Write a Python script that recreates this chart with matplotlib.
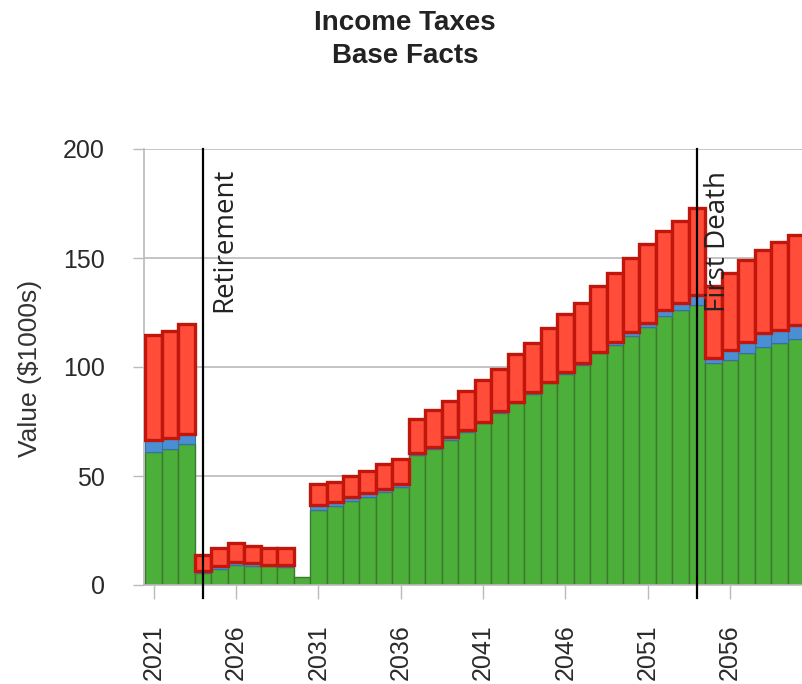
import numpy as np
import matplotlib.pyplot as plt

years = list(range(2021, 2061))

# segment heights ($1000s), bottom to top
green = [61.0, 62.4, 64.7, 5.5, 7.3, 9.2, 8.8, 8.6, 8.4, 3.8,
         34.4, 36.2, 38.7, 40.5, 42.8, 45.1, 59.6, 62.4, 66.5, 70.3,
         74.2, 78.7, 83.3, 87.5, 92.5, 96.6, 100.9, 106.3, 110.1, 114.4,
         118.5, 123.5, 126.2, 128.4, 101.7, 103.2, 106.3, 109.3, 111.1, 112.7]
blue = [5.5, 4.9, 4.6, 1.0, 1.4, 1.5, 1.1, 0.8, 0.8, 0.0,
        2.1, 1.7, 1.8, 1.9, 1.1, 1.2, 1.1, 1.0, 1.5, 0.8,
        0.8, 1.1, 0.8, 0.9, 0.8, 1.2, 0.8, 0.7, 1.5, 1.8,
        1.8, 2.5, 3.0, 4.6, 2.3, 4.6, 5.3, 6.2, 5.9, 6.6]
red = [48.2, 49.4, 50.4, 7.3, 8.1, 8.4, 8.1, 7.4, 7.6, 0.0,
       9.8, 9.5, 9.6, 10.0, 11.6, 11.4, 15.3, 16.9, 16.5, 17.9,
       19.0, 19.4, 21.9, 22.8, 24.7, 26.5, 27.8, 30.2, 31.7, 33.7,
       36.1, 36.5, 37.8, 39.8, 33.0, 35.5, 37.5, 38.2, 40.5, 41.3]

events = [(2024, "Retirement"), (2054, "First Death")]
xtick_years = list(range(2021, 2061, 5))
yticks = [0, 50, 100, 150, 200]

plt.rcParams['font.family'] = ['Liberation Sans', 'DejaVu Sans']

fig = plt.figure(figsize=(8.02, 6.84), dpi=100)
ax = fig.add_axes([144 / 802, 99 / 684, (812.4 - 144) / 802, 436 / 684])

x = np.array(years)
g = np.array(green)
b = np.array(blue)
r = np.array(red)

ax.bar(x, g, width=1.0, color='#4caf3a', edgecolor='#3b7a2c', linewidth=1.0, zorder=2)
ax.bar(x, b, width=1.0, bottom=g, color='#4a8fd4', edgecolor='#3a6fa6',
       linewidth=[0.8 if v > 0 else 0 for v in b], zorder=2)
ax.bar(x, r, width=1.0, bottom=g + b, color='#ff4d3a', edgecolor='#c0160c',
       linewidth=[2.4 if v > 0 else 0 for v in r], zorder=3)

for yr, label in events:
    ax.axvline(yr, ymin=-0.03, ymax=1, color='black', linewidth=1.6, clip_on=False, zorder=4)
    ax.text(yr + 0.42, 125, label, rotation=90, ha='left', va='bottom',
            fontsize=20, family=['Open Sans', 'DejaVu Sans'], color='#222222', zorder=5)

ax.set_xlim(2020.42, 2061)
ax.set_ylim(0, 200)
ax.set_yticks(yticks)
ax.set_xticks(xtick_years)
ax.set_xticklabels([str(v) for v in xtick_years], rotation=90, fontsize=18, color='#2a2a2a')
ax.set_yticklabels([str(v) for v in yticks], fontsize=18, color='#2a2a2a')
ax.tick_params(axis='y', length=8, width=1, color='#bbbbbb', pad=20)
ax.tick_params(axis='x', length=10, width=1, color='#bbbbbb', pad=18)

ax.grid(axis='y', color='#c4c4c4', linewidth=1.4)
ax.set_axisbelow(True)
for side in ['top', 'right']:
    ax.spines[side].set_visible(False)
for side in ['left', 'bottom']:
    ax.spines[side].set_color('#bbbbbb')
    ax.spines[side].set_linewidth(1.2)

fig.text(30 / 802, 1 - 368 / 684, "Value ($1000s)", rotation=90, ha='center', va='center',
         fontsize=19, color='#333333')
fig.text(405 / 802, 1 - 30 / 684, "Income Taxes", ha='center', va='baseline',
         fontsize=20, fontweight='bold', color='#222222')
fig.text(405 / 802, 1 - 63 / 684, "Base Facts", ha='center', va='baseline',
         fontsize=20, fontweight='bold', color='#222222')

fig.savefig('out.png', dpi=100)
